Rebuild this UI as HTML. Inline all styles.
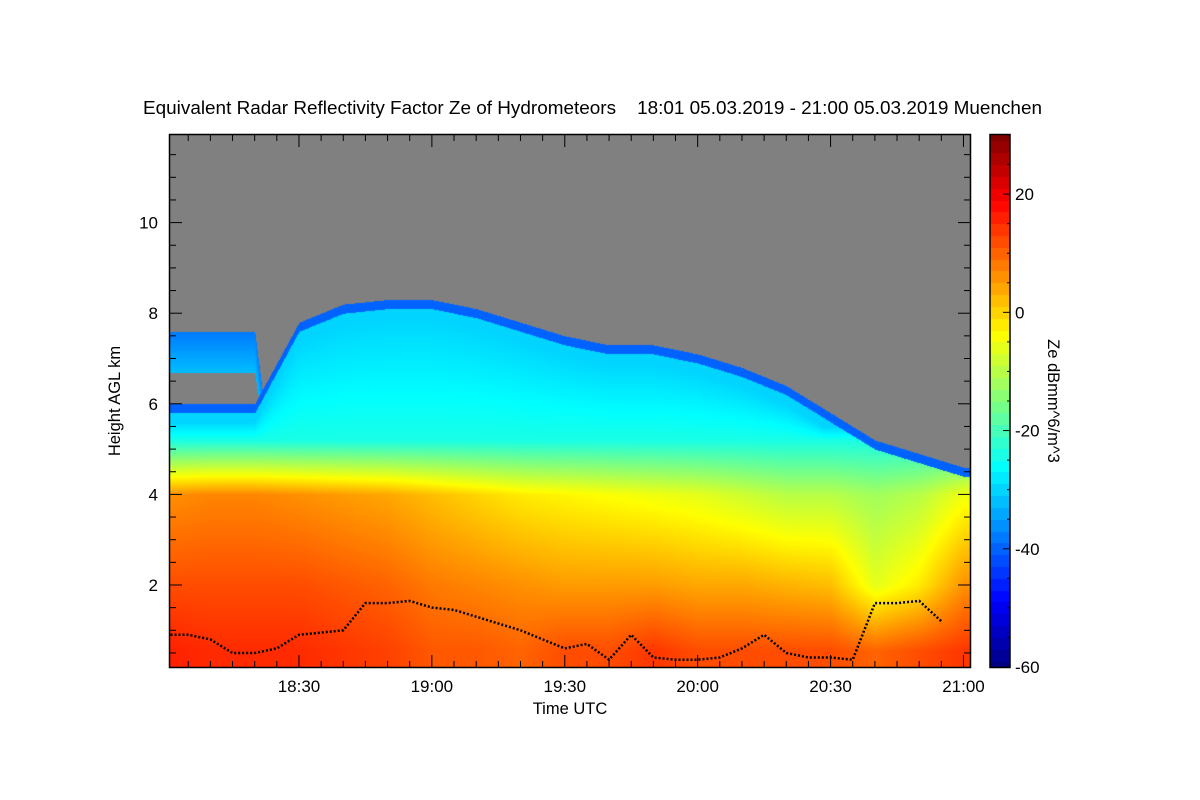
<!DOCTYPE html>
<html><head><meta charset="utf-8"><style>
body{margin:0;background:#fff;width:1200px;height:800px;overflow:hidden;font-family:"Liberation Sans",sans-serif}
#wrap{position:relative;width:1200px;height:800px}
canvas{position:absolute}
svg{position:absolute;left:0;top:0}
</style></head><body>
<div id="wrap">
<canvas id="hm" width="801" height="532" style="left:170px;top:135px"></canvas>
<canvas id="cb" width="20" height="532" style="left:990px;top:135px"></canvas>
<svg id="ov" width="1200" height="800">
<text x="143" y="114" font-size="18" textLength="899" lengthAdjust="spacingAndGlyphs" style="white-space:pre" xml:space="preserve">Equivalent Radar Reflectivity Factor Ze of Hydrometeors    18:01 05.03.2019 - 21:00 05.03.2019 Muenchen</text>
<text transform="translate(120,401) rotate(-90)" font-size="16.5" text-anchor="middle">Height AGL km</text>
<text x="570" y="714" font-size="16.5" text-anchor="middle">Time UTC</text>
<text transform="translate(1048,401) rotate(90)" font-size="16.5" text-anchor="middle">Ze dBmm^6/m^3</text>
<g id="axes"></g>
</svg>
</div>
<script>
// data (10-minute steps from 18:00)
const minutes=[0,10,20,30,40,50,60,70,80,90,100,110,120,130,140,150,160,170,180];
const cloudTop=[6.0,6.0,6.0,7.8,8.2,8.3,8.3,8.1,7.8,7.5,7.3,7.3,7.1,6.8,6.4,5.8,5.2,4.9,4.6];
const zeSurface=[16,15,15,15,14,13,11,11,10,12,12,14,12,12,12,12,10,12,14];
const ze2km=[12,12,12,12,11,10,8,7,6,5,5,5,4,4,3,2,-6,-2,6];
const ze4km=[6,7,7,6,5,4,2,0,-2,-3,-4,-5,-6,-8,-10,-10,-12,-10,-5];
const layerBot=[6.7,6.7,6.7,0,0,0,0,0,0,0,0,0,0,0,0,0,0,0,0];
const layerTop=[7.6,7.6,7.6,0,0,0,0,0,0,0,0,0,0,0,0,0,0,0,0];
// cloud base (5-minute steps)
const baseMinutes=[1,5,10,15,20,25,30,35,40,45,50,55,60,65,70,80,85,90,95,100,105,110,115,120,125,130,135,140,145,150,155,160,165,170,175];
const baseHeight=[0.9,0.9,0.8,0.5,0.5,0.6,0.9,0.95,1.0,1.6,1.6,1.65,1.5,1.45,1.3,1.0,0.8,0.6,0.7,0.35,0.9,0.4,0.35,0.35,0.4,0.6,0.9,0.5,0.4,0.4,0.35,1.6,1.6,1.65,1.2];
const yTicks=[2,4,6,8,10];
const xTickLabels=["18:30","19:00","19:30","20:00","20:30","21:00"];
const xTickMinutes=[30,60,90,120,150,180];
const cbTicks=[-60,-40,-20,0,20];

const X0=170,X1=970,Y0=135,Y1=667;
const xs=m=>170.5+(m-1)*4.43;
const ys=h=>585-(h-2)*45.3;
const cbY=z=>135+(30-z)/90*532;
function lerpArr(arr,m){let i=Math.min(Math.floor(m/10),arr.length-2);const t=(m-minutes[i])/10;return arr[i]+(arr[i+1]-arr[i])*t;}
function jet(z){let f=Math.max(0,Math.min(1,(z+60)/90));
 const c=v=>Math.round(255*Math.max(0,Math.min(1,v)));
 return [c(1.5-Math.abs(4*f-3)),c(1.5-Math.abs(4*f-2)),c(1.5-Math.abs(4*f-1))];}
function profile(h,m){
 const top=lerpArr(cloudTop,m),s=lerpArr(zeSurface,m),a=lerpArr(ze2km,m),b=lerpArr(ze4km,m);
 const lb=lerpArr(layerBot,m),lt=lerpArr(layerTop,m);
 if(h>top){ if(lt>0&&h>lb&&h<lt) return -32-(h-lb)/(lt-lb)*6; return null;}
 let z;
 if(h<0.55) z=s;
 else if(h<2) z=s+(a-s)*(h-0.55)/1.45;
 else if(h<4) z=a+(b-a)*(h-2)/2;
 else if(h<5.2) z=b+(-24-b)*(h-4)/1.2;
 else { const frac=Math.min(1,(h-5.2)/Math.max(0.3,top-5.6)); z=-24-6*frac; }
 if(top-h<0.2) z=Math.min(z,-40);
 return z;}
const hm=document.getElementById('hm').getContext('2d');
const img=hm.createImageData(801,532);
for(let px=0;px<801;px++){const m=1+(px+X0-170.5)/4.43;
 for(let py=0;py<532;py++){const h=2+(585-(py+Y0))/45.3;const z=profile(h,Math.max(0,Math.min(180,m)));
  const k=(py*801+px)*4;let col=z===null?[128,128,128]:jet(z);
  img.data[k]=col[0];img.data[k+1]=col[1];img.data[k+2]=col[2];img.data[k+3]=255;}}
hm.putImageData(img,0,0);
const cb=document.getElementById('cb').getContext('2d');
for(let py=0;py<532;py++){const z=30-py/532*90;const c=jet(Math.round(z/2)*2);cb.fillStyle=`rgb(${c})`;cb.fillRect(0,py,20,1);}

const NS='http://www.w3.org/2000/svg';const ax=document.getElementById('axes');
function el(t,a){const e=document.createElementNS(NS,t);for(const k in a)e.setAttribute(k,a[k]);ax.appendChild(e);return e;}
let pts=baseMinutes.map((m,i)=>xs(m).toFixed(1)+','+ys(baseHeight[i]).toFixed(1)).join(' ');
const cbl=el('polyline',{points:pts,fill:'none',stroke:'#000','stroke-width':2.5,'stroke-dasharray':'2 2'});


const fr=el('rect',{x:169.5,y:134.5,width:801,height:533,fill:'none',stroke:'#000','stroke-width':1.5});


const cf=el('rect',{x:990,y:134.5,width:20,height:533,fill:'none',stroke:'#000','stroke-width':1.5});


for(let h=0.5;h<=11.9;h+=0.5){const y=ys(h);if(y>Y1||y<Y0)continue;const maj=h%2===0;const L=maj?12:6;
 el('line',{x1:170,x2:170+L,y1:y,y2:y,stroke:'#000'});el('line',{x1:970,x2:970-L,y1:y,y2:y,stroke:'#000'});}
yTicks.forEach(v=>{const t=el('text',{x:158,y:ys(v)+6,'font-size':17,'text-anchor':'end'});t.textContent=v;
 
 });
for(let m=5;m<=180;m+=5){const x=xs(m);const maj=m%30===0;const L=maj?12:6;
 el('line',{x1:x,x2:x,y1:667,y2:667-L,stroke:'#000'});el('line',{x1:x,x2:x,y1:135,y2:135+L,stroke:'#000'});}
xTickLabels.forEach((s,i)=>{const t=el('text',{x:xs(xTickMinutes[i]),y:692,'font-size':17,'text-anchor':'middle'});t.textContent=s;
 
 });
for(let z=-60;z<=30;z+=5){const y=cbY(z);el('line',{x1:1010,x2:z%20===0?1003:1007,y1:y,y2:y,stroke:'#000'});}
cbTicks.forEach(v=>{const t=el('text',{x:1015,y:cbY(v)+6,'font-size':17});t.textContent=v;
 
 });
</script>
</body></html>
